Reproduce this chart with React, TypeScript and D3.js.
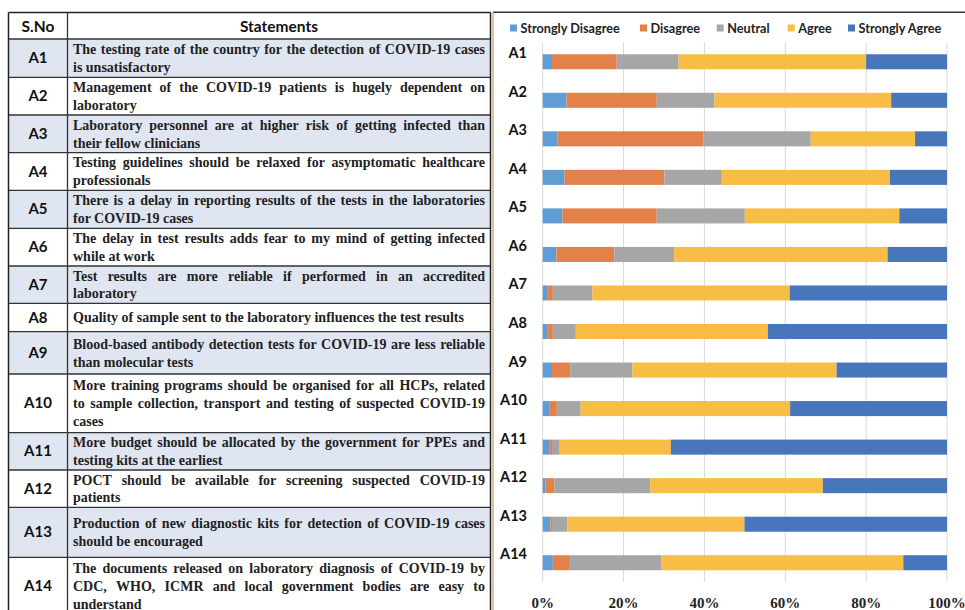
import * as d3 from 'd3';
import React from 'react';

// ---- data ----
const categories = ['A1', 'A2', 'A3', 'A4', 'A5', 'A6', 'A7', 'A8', 'A9', 'A10', 'A11', 'A12', 'A13', 'A14'];

const statements: string[][] = [
    ['The testing rate of the country for the detection of COVID-19 cases', 'is unsatisfactory'],
    ['Management of the COVID-19 patients is hugely dependent on', 'laboratory'],
    ['Laboratory personnel are at higher risk of getting infected than', 'their fellow clinicians'],
    ['Testing guidelines should be relaxed for asymptomatic healthcare', 'professionals'],
    ['There is a delay in reporting results of the tests in the laboratories', 'for COVID-19 cases'],
    ['The delay in test results adds fear to my mind of getting infected', 'while at work'],
    ['Test results are more reliable if performed in an accredited', 'laboratory'],
    ['Quality of sample sent to the laboratory influences the test results'],
    ['Blood-based antibody detection tests for COVID-19 are less reliable', 'than molecular tests'],
    [
        'More training programs should be organised for all HCPs, related',
        'to sample collection, transport and testing of suspected COVID-19',
        'cases',
    ],
    ['More budget should be allocated by the government for PPEs and', 'testing kits at the earliest'],
    ['POCT should be available for screening suspected COVID-19', 'patients'],
    ['Production of new diagnostic kits for detection of COVID-19 cases', 'should be encouraged'],
    [
        'The documents released on laboratory diagnosis of COVID-19 by',
        'CDC, WHO, ICMR and local government bodies are easy to',
        'understand',
    ],
];

const seriesNames = ['Strongly Disagree', 'Disagree', 'Neutral', 'Agree', 'Strongly Agree'];
const stronglyDisagree = [2.3, 5.9, 3.6, 5.4, 4.9, 3.4, 1.1, 1.1, 2.3, 1.6, 1.6, 0.7, 1.9, 2.5];
const disagree = [16.0, 22.3, 36.2, 24.7, 23.3, 14.3, 1.4, 1.4, 4.5, 1.9, 0.7, 2.2, 0.4, 4.0];
const neutral = [15.3, 14.3, 26.5, 14.2, 21.8, 14.8, 9.8, 5.7, 15.4, 5.9, 1.9, 23.7, 3.8, 22.8];
const agree = [46.4, 43.7, 25.8, 41.6, 38.2, 52.8, 48.8, 47.5, 50.5, 51.8, 27.5, 42.7, 43.8, 59.9];
const stronglyAgree = [20.0, 13.8, 7.9, 14.1, 11.8, 14.7, 38.9, 44.3, 27.3, 38.8, 68.3, 30.7, 50.1, 10.8];

const colors = ['#5f9dd4', '#e2814a', '#a6a6a6', '#f7bd45', '#4776bb'];

// ---- layout ----
const tableLeft = 8.5;
const colSplit = 67.5;
const tableRight = 490.5;
const tableTop = 12.5;
const headerBottom = 39;
const rowHeights = [38.3, 37.7, 37.7, 37.6, 38, 37.7, 37.3, 28.4, 42.3, 58.7, 37.3, 37.3, 50, 57.7];
const textX = 73;
const textW = 412;
const lineGap = 17.7;
const serifFont = "'Liberation Serif', 'Times New Roman', serif";
const sansFont = "Lato, 'Noto Sans', sans-serif";
const stmtSize = 14;

let ctx: CanvasRenderingContext2D | null = null;
function textWidth(s: string, font: string) {
    if (!ctx) ctx = document.createElement('canvas').getContext('2d');
    ctx!.font = font;
    return ctx!.measureText(s).width;
}

// position words so a line fills the column (justified text)
function placeWords(line: string, justify: boolean) {
    const words = line.split(' ');
    if (!justify || words.length < 2) return [{ w: line, x: textX }];
    const font = `bold ${stmtSize}px 'Liberation Serif'`;
    const widths = words.map(w => textWidth(w, font));
    const gap = (textW - d3.sum(widths)) / (words.length - 1);
    let x = textX;
    return words.map((w, i) => {
        const r = { w, x };
        x += widths[i] + gap;
        return r;
    });
}

const Table: React.FC = () => {
    const tops = [headerBottom];
    rowHeights.forEach(h => tops.push(tops[tops.length - 1] + h));
    return (
        <g>
            {categories.map((c, i) => (
                <rect
                    key={'bg' + c}
                    x={tableLeft}
                    y={tops[i]}
                    width={tableRight - tableLeft}
                    height={rowHeights[i]}
                    fill={i % 2 === 0 ? '#dfe6f2' : '#ffffff'}
                />
            ))}
            <text x={(tableLeft + colSplit) / 2} y={31.5} textAnchor="middle" fontFamily={sansFont} fontWeight={700} fontSize={15.5} fill="#111">
                S.No
            </text>
            <text x={(colSplit + tableRight) / 2} y={31.5} textAnchor="middle" fontFamily={sansFont} fontWeight={700} fontSize={15.5} fill="#111">
                Statements
            </text>
            {categories.map((c, i) => {
                const cy = tops[i] + rowHeights[i] / 2;
                const lines = statements[i];
                return (
                    <g key={'row' + c}>
                        <text x={(tableLeft + colSplit) / 2} y={cy + 5} textAnchor="middle" fontFamily={sansFont} fontWeight={700} fontSize={15} fill="#111">
                            {c}
                        </text>
                        {lines.map((ln, j) => {
                            const ly = cy + (j - (lines.length - 1) / 2) * lineGap + 4.8;
                            return (
                                <text key={j} y={ly} fontFamily={serifFont} fontWeight={700} fontSize={stmtSize} fill="#222">
                                    {placeWords(ln, j < lines.length - 1).map((p, k) => (
                                        <tspan key={k} x={p.x}>
                                            {p.w}
                                        </tspan>
                                    ))}
                                </text>
                            );
                        })}
                    </g>
                );
            })}
            {/* grid lines of the table */}
            {tops.map((t, i) => (
                <line key={'h' + i} x1={tableLeft} x2={tableRight} y1={t} y2={t} stroke="#333" strokeWidth={1.3} />
            ))}
            <line x1={tableLeft} x2={tableRight} y1={tableTop} y2={tableTop} stroke="#222" strokeWidth={1.5} />
            <line x1={tableLeft} x2={tableLeft} y1={tableTop} y2={620} stroke="#222" strokeWidth={1.5} />
            <line x1={colSplit} x2={colSplit} y1={tableTop} y2={620} stroke="#333" strokeWidth={1.3} />
            <line x1={tableRight} x2={tableRight} y1={tableTop} y2={620} stroke="#222" strokeWidth={1.5} />
        </g>
    );
};

const Chart: React.FC = () => {
    const rows = categories.map((c, i) => ({
        cat: c,
        'Strongly Disagree': stronglyDisagree[i],
        Disagree: disagree[i],
        Neutral: neutral[i],
        Agree: agree[i],
        'Strongly Agree': stronglyAgree[i],
    }));
    const stacked = d3
        .stack<any>()
        .keys(seriesNames)
        .offset(d3.stackOffsetExpand)(rows);

    const x = d3.scaleLinear().domain([0, 1]).range([542.7, 947]);
    const y = d3.scaleBand().domain(categories).range([42.5, 582]).paddingInner(0.61).paddingOuter(0.305);
    const fmt = d3.format('.0%');
    const legendX = [510, 640, 716.7, 787.7, 848];

    return (
        <g>
            <line x1={493} x2={965} y1={12.3} y2={12.3} stroke="#3b3530" strokeWidth={1.5} />
            <line x1={493} x2={493} y1={12} y2={610} stroke="#c9a27a" strokeWidth={1.3} />
            {x.ticks(5).map(t => (
                <line key={'g' + t} x1={x(t)} x2={x(t)} y1={y.range()[0]} y2={y.range()[1]} stroke="#d9d9d9" strokeWidth={1} />
            ))}
            {stacked.map((s, k) => (
                <g key={s.key} fill={colors[k]}>
                    {s.map(d => (
                        <rect key={d.data.cat} x={x(d[0])} y={y(d.data.cat)} width={x(d[1]) - x(d[0])} height={y.bandwidth()} />
                    ))}
                </g>
            ))}
            {categories.map(c => (
                <text key={'l' + c} x={527} y={y(c)! + y.bandwidth() / 2 - 3.5} textAnchor="end" fontFamily={sansFont} fontWeight={700} fontSize={14.5} fill="#111">
                    {c}
                </text>
            ))}
            {x.ticks(5).map(t => (
                <text key={'t' + t} x={x(t)} y={608} textAnchor="middle" fontFamily={serifFont} fontWeight={700} fontSize={15} fill="#222">
                    {fmt(t)}
                </text>
            ))}
            {seriesNames.map((n, k) => (
                <g key={'lg' + n}>
                    <rect x={legendX[k]} y={24.5} width={7} height={7} fill={colors[k]} />
                    <text x={legendX[k] + 10.5} y={32.5} fontFamily={sansFont} fontWeight={700} fontSize={12.7} fill="#222">
                        {n}
                    </text>
                </g>
            ))}
        </g>
    );
};

export default function App() {
    return (
        <svg width={965} height={610} style={{ position: 'absolute', left: 0, top: 0, background: '#fff' }}>
            <rect width={965} height={610} fill="#fff" />
            <Table />
            <Chart />
        </svg>
    );
}
